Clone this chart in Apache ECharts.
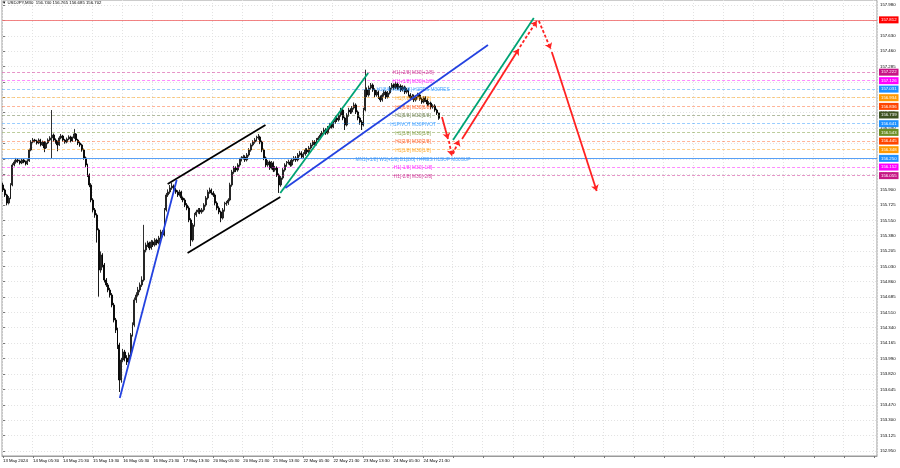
<!DOCTYPE html>
<html><head><meta charset="utf-8">
<script src="https://cdn.jsdelivr.net/npm/echarts@6/dist/echarts.min.js"></script>
<style>html,body{margin:0;padding:0;background:#fff}#c{width:900px;height:468px}</style>
</head><body><div id="c"></div>
<script>
// ---------------- DATA ----------------
const symbolTitle = 'USDJPY,M30  156.740 156.765 156.685 156.702';
const xLabels = ['13 May 2024','14 May 05:30','14 May 21:30','15 May 13:30','16 May 05:30','16 May 21:30','17 May 13:30','20 May 05:30','20 May 21:30','21 May 13:30','22 May 05:30','22 May 21:30','23 May 13:30','24 May 05:30','24 May 21:30'];
const slotCount = 466;
const firstOpen = 155.950;
const closes = [
155.893,155.837,155.746,155.803,155.950,156.175,156.209,156.232,156.221,156.198,
156.232,156.209,156.187,156.221,156.344,156.434,156.457,156.446,156.423,156.457,
156.401,156.434,156.367,156.423,156.457,156.480,156.513,156.457,156.434,156.401,
156.480,156.502,156.457,156.434,156.468,156.491,156.446,156.480,156.525,156.457,
156.423,156.401,156.344,156.254,156.175,156.062,155.950,155.780,155.668,155.611,
155.442,154.991,155.160,155.047,154.878,154.822,154.765,154.709,154.596,154.427,
154.314,154.145,153.750,153.976,154.066,153.998,153.953,154.032,154.258,154.371,
154.653,154.709,154.765,154.822,154.878,155.216,155.273,155.295,155.239,155.307,
155.273,155.329,155.295,155.352,155.420,155.386,155.668,155.837,155.871,155.916,
155.938,155.893,155.871,155.837,155.871,155.803,155.780,155.724,155.690,155.555,
155.329,155.498,155.611,155.645,155.668,155.645,155.668,155.724,155.803,155.871,
155.893,155.859,155.837,155.746,155.690,155.645,155.577,155.668,155.735,155.746,
155.780,155.950,156.096,156.141,156.119,156.175,156.232,156.254,156.265,156.232,
156.288,156.344,156.401,156.434,156.457,156.480,156.491,156.434,156.344,156.254,
156.175,156.209,156.141,156.198,156.119,156.141,156.062,155.950,156.029,156.119,
156.175,156.198,156.209,156.175,156.232,156.254,156.232,156.288,156.310,156.265,
156.299,156.344,156.322,156.367,156.401,156.434,156.412,156.457,156.480,156.513,
156.536,156.570,156.536,156.592,156.626,156.604,156.660,156.705,156.683,156.739,
156.795,156.705,156.626,156.739,156.795,156.773,156.818,156.852,156.773,156.705,
156.660,156.626,156.795,157.021,156.965,157.044,157.077,157.021,156.965,156.998,
156.942,156.908,156.965,156.998,156.942,156.987,157.044,157.077,157.044,157.089,
157.044,157.066,157.021,157.055,156.998,157.021,156.965,156.931,156.953,156.908,
156.942,156.965,156.919,156.886,156.931,156.908,156.863,156.874,156.829,156.841,
156.795,156.762,156.702];
const highs = [
155.975,155.910,155.850,155.825,155.970,156.195,156.230,156.255,156.250,156.235,
156.250,156.245,156.225,156.240,156.360,156.455,156.480,156.470,156.460,156.475,
156.470,156.450,156.445,156.440,156.475,156.500,156.795,156.530,156.475,156.450,
156.500,156.525,156.515,156.470,156.485,156.510,156.505,156.495,156.580,156.535,
156.470,156.440,156.415,156.360,156.270,156.190,156.080,155.970,155.800,155.690,
155.630,155.460,155.200,155.180,155.070,154.900,154.845,154.790,154.730,154.620,
154.450,154.340,154.170,154.000,154.100,154.090,154.030,154.060,154.280,154.400,
154.680,154.740,154.800,154.850,154.920,155.500,155.300,155.320,155.310,155.330,
155.325,155.350,155.345,155.375,155.445,155.440,155.690,155.860,155.900,155.950,
155.975,155.955,155.915,155.890,155.895,155.885,155.820,155.800,155.745,155.710,
155.575,155.520,155.635,155.670,155.690,155.690,155.690,155.745,155.825,155.895,
155.920,155.910,155.880,155.855,155.765,155.710,155.660,155.690,155.760,155.770,
155.800,155.975,156.120,156.165,156.160,156.195,156.255,156.275,156.290,156.285,
156.310,156.365,156.420,156.455,156.480,156.505,156.525,156.505,156.450,156.360,
156.270,156.230,156.225,156.220,156.215,156.165,156.160,156.080,156.050,156.140,
156.195,156.220,156.235,156.230,156.255,156.275,156.275,156.310,156.335,156.330,
156.320,156.365,156.365,156.390,156.425,156.455,156.455,156.480,156.500,156.535,
156.560,156.595,156.590,156.615,156.650,156.650,156.685,156.730,156.730,156.765,
156.820,156.810,156.720,156.760,156.820,156.815,156.840,156.880,156.870,156.790,
156.720,156.680,156.820,157.250,157.050,157.070,157.100,157.095,157.040,157.020,
157.015,156.960,156.985,157.020,157.015,157.010,157.065,157.100,157.095,157.115,
157.105,157.090,157.085,157.075,157.070,157.045,157.040,156.985,156.975,156.970,
156.965,156.990,156.980,156.935,156.950,156.950,156.925,156.895,156.890,156.860,
156.860,156.810,156.765];
const lows = [
155.870,155.815,155.720,155.730,155.790,155.935,156.160,156.190,156.200,156.180,
156.185,156.195,156.170,156.175,156.210,156.330,156.420,156.430,156.405,156.410,
156.385,156.390,156.320,156.355,156.410,156.445,156.250,156.440,156.415,156.330,
156.390,156.465,156.440,156.415,156.420,156.455,156.430,156.435,156.470,156.440,
156.400,156.380,156.325,156.235,156.150,156.040,155.925,155.755,155.640,155.580,
155.300,154.690,154.960,155.020,154.850,154.800,154.740,154.680,154.570,154.400,
154.280,154.100,153.615,153.720,153.950,153.960,153.920,153.930,154.010,154.240,
154.350,154.620,154.690,154.740,154.800,154.860,155.190,155.250,155.215,155.220,
155.250,155.255,155.270,155.280,155.335,155.360,155.370,155.650,155.815,155.850,
155.895,155.870,155.850,155.815,155.820,155.780,155.755,155.700,155.665,155.530,
155.260,155.310,155.480,155.590,155.625,155.620,155.625,155.650,155.705,155.785,
155.850,155.840,155.815,155.720,155.665,155.620,155.530,155.560,155.650,155.715,
155.725,155.765,155.930,156.075,156.095,156.100,156.155,156.215,156.235,156.210,
156.215,156.270,156.325,156.385,156.415,156.440,156.460,156.410,156.320,156.230,
156.150,156.155,156.120,156.125,156.095,156.100,156.040,155.860,155.930,156.010,
156.100,156.155,156.180,156.155,156.160,156.215,156.210,156.215,156.270,156.245,
156.250,156.280,156.300,156.305,156.350,156.385,156.395,156.395,156.440,156.465,
156.495,156.520,156.515,156.520,156.575,156.585,156.590,156.640,156.660,156.665,
156.720,156.680,156.570,156.610,156.720,156.750,156.755,156.800,156.750,156.680,
156.630,156.570,156.610,156.780,156.940,156.945,157.025,157.000,156.940,156.945,
156.920,156.885,156.890,156.945,156.920,156.925,156.970,157.025,157.020,157.030,
157.020,157.025,157.000,157.005,156.975,156.980,156.945,156.910,156.910,156.885,
156.890,156.925,156.900,156.865,156.870,156.885,156.840,156.845,156.805,156.810,
156.775,156.740,156.685];
const yTicks = [152.950,153.125,153.300,153.470,153.645,153.820,153.990,154.165,154.340,154.510,154.685,154.860,155.030,155.205,155.380,155.550,155.725,155.900,156.075,156.245,156.420,156.590,156.765,156.940,157.110,157.285,157.460,157.630,157.805,157.980];
const levelValues = [157.812,157.222,157.126,157.031,156.934,156.836,156.739,156.641,156.543,156.445,156.348,156.250,156.152,156.055];
const levelTexts = ['','H1[+2/8] M30[+2/8]','H1[+1/8] M30[+1/8]','H1[8/8] M30[8/8] H1RES M30RES','H1[7/8] M30[7/8]','H1[6/8] M30[6/8]','H1[5/8] M30[5/8]','H1PIVOT M30PIVOT','H1[3/8] M30[3/8]','H1[2/8] M30[2/8]','H1[1/8] M30[1/8]','MN1[+1/8] W1[+1/8] D1[2/8] H4RES H1SUP M30SUP','H1[-1/8] M30[-1/8]','H1[-2/8] M30[-2/8]'];
// trend lines: [barIndex, price]
const blueLine1 = [[62.2,153.548],[92.5,156.006]];
const blackUpper = [[87.7,155.961],[139.8,156.626]];
const blackLower = [[98.3,155.182],[147.7,155.814]];
const greenLine1 = [[147.7,155.859],[194.5,157.213]];
const blueLine2 = [[150.4,155.916],[258.3,157.529]];
const greenLine2 = [[239.7,156.457],[282.7,157.834]];
const redSolid = [
  [[233.8,156.716],[237.0,156.468]],
  [[244.5,156.468],[274.7,157.483]],
  [[292.3,157.450],[316.2,155.882]]];
const redDashed = [
  [[237.5,156.446],[239.1,156.277]],
  [[239.7,156.299],[242.9,156.457]],
  [[275.3,157.506],[284.3,157.800]],
  [[285.4,157.800],[291.7,157.483]]];

// ---------------- STYLE ----------------
const FONT = 'Liberation Sans';
const FS = 4.3;
const LFS = 4.8;
const labelAnchorX = 218.4;
const boxColors = ['#ff0000','#c71585','#ff00ff','#1e90ff','#ff9900','#ff4500','#3f5222','#1e90ff','#6b8e23','#ff4500','#ff9900','#1e90ff','#ff00ff','#c71585'];
const textColors = ['#ff0000','#c71585','#ff00ff','#1e90ff','#ff9900','#ff4500','#556b2f','#1e90ff','#6b8e23','#ff4500','#ff9900','#1e90ff','#ff00ff','#c71585'];
const lineColors = ['rgba(240,110,110,0.85)','rgba(199,21,133,0.45)','rgba(255,0,255,0.45)','rgba(30,144,255,0.45)','rgba(255,153,0,0.45)','rgba(255,69,0,0.4)','rgba(85,107,47,0.45)','rgba(30,144,255,0.45)','rgba(107,142,35,0.45)','rgba(255,69,0,0.4)','rgba(255,153,0,0.45)','rgba(70,150,245,0.9)','rgba(255,0,255,0.45)','rgba(199,21,133,0.45)'];
const lineTypes = ['solid','dashed','dashed','dashed','dashed','dashed','dashed','dashed','dashed','dashed','dashed','solid','dashed','dashed'];
const BLUE = '#2442e0', GREEN = '#00a374', RED = '#ff2222';

const N = slotCount;
const cats = Array.from({length: N}, (_, i) => String(i));
const candles = closes.map((c, i) => [i === 0 ? firstOpen : closes[i - 1], c, lows[i], highs[i]]);
const ls = (color, width, type) => ({color: color, width: width, type: type || 'solid', opacity: 1, curveness: 0});

const chart = echarts.init(document.getElementById('c'), null, {renderer: 'canvas'});
const option = {
  animation: false,
  backgroundColor: '#ffffff',
  textStyle: {fontFamily: FONT},
  title: {text: '\u25BC ' + symbolTitle, left: 2, top: 1, padding: 0,
    textStyle: {fontSize: FS, fontWeight: 'normal', color: '#000', fontFamily: FONT}},
  grid: {left: 0, right: 23, top: 0, bottom: 12, show: true, borderColor: '#9a9a9a', borderWidth: 1, backgroundColor: '#fff'},
  xAxis: [{
    type: 'category', data: cats, boundaryGap: true,
    axisLine: {show: true, lineStyle: {color: '#9a9a9a'}},
    axisTick: {show: true, interval: 15, length: 2, alignWithLabel: true, lineStyle: {color: '#777'}},
    axisLabel: {show: true, interval: 15, hideOverlap: false, fontSize: FS, color: '#000', align: 'left', margin: 3, fontFamily: FONT,
      formatter: (v, i) => { const k = i / 16; return (Number.isInteger(k) && k < xLabels.length) ? xLabels[k] : ''; }},
    splitLine: {show: true, interval: 15, lineStyle: {color: '#e2e2e2', type: [1, 2], width: 1}}
  }, {
    type: 'value', min: -0.5, max: N - 0.5, show: false, splitLine: {show: false}
  }],
  yAxis: {
    type: 'value', position: 'right', min: 152.893, max: 158.036,
    axisLine: {show: false},
    axisTick: {show: true, customValues: yTicks, length: 2, lineStyle: {color: '#777'}},
    axisLabel: {customValues: yTicks, formatter: v => v.toFixed(3), fontSize: FS, color: '#000', margin: 3, fontFamily: FONT},
    splitLine: {show: true, lineStyle: {color: '#e2e2e2', type: [1, 2], width: 1}}
  },
  series: [{
    type: 'candlestick', data: candles, barWidth: 1.4, silent: true, z: 3,
    itemStyle: {color: '#333333', color0: '#000000', borderColor: '#1a1a1a', borderColor0: '#000000', borderWidth: 0.9},
    markLine: {
      silent: true, symbol: ['none', 'none'], precision: 3, animation: false,
      data: levelValues.map((v, i) => ({
        yAxis: v,
        lineStyle: {color: lineColors[i], type: lineTypes[i] === 'dashed' ? [3, 2] : 'solid', width: 1},
        label: {show: true, position: 'end', formatter: v.toFixed(3), backgroundColor: boxColors[i], color: '#fff',
          fontSize: FS, fontFamily: FONT, padding: [1, 2, 1, 2], lineHeight: 5, distance: 2}
      }))
    }
  }, {
    type: 'scatter', xAxisIndex: 1, yAxisIndex: 0, symbolSize: 0, silent: true, z: 4,
    data: levelValues.map((v, i) => ({value: [labelAnchorX, v],
      label: {show: levelTexts[i] !== '', formatter: levelTexts[i], color: textColors[i]}})),
    label: {position: 'inside', fontSize: LFS, fontFamily: FONT, align: 'center', verticalAlign: 'middle', offset: [0, 1]}
  }, {
    type: 'lines', coordinateSystem: 'cartesian2d', xAxisIndex: 1, yAxisIndex: 0, silent: true, z: 5,
    symbol: ['none', 'none'],
    lineStyle: {opacity: 1, width: 1.8},
    data: [
      {coords: blueLine1, lineStyle: ls(BLUE, 1.8)},
      {coords: blackUpper, lineStyle: ls('#000', 1.8)},
      {coords: blackLower, lineStyle: ls('#000', 1.8)},
      {coords: greenLine1, lineStyle: ls(GREEN, 1.8)},
      {coords: blueLine2, lineStyle: ls(BLUE, 1.8)},
      {coords: greenLine2, lineStyle: ls(GREEN, 1.8)}
    ]
  }, {
    type: 'lines', coordinateSystem: 'cartesian2d', xAxisIndex: 1, yAxisIndex: 0, silent: true, z: 6,
    symbol: ['none', 'arrow'], symbolSize: 6,
    lineStyle: {opacity: 1, width: 1.8},
    data: redSolid.map(c => ({coords: c, lineStyle: ls(RED, 1.8)}))
      .concat(redDashed.map(c => ({coords: c, lineStyle: ls(RED, 1.8, [3, 2])})))
  }]
};
chart.setOption(option);
</script>
</body></html>
